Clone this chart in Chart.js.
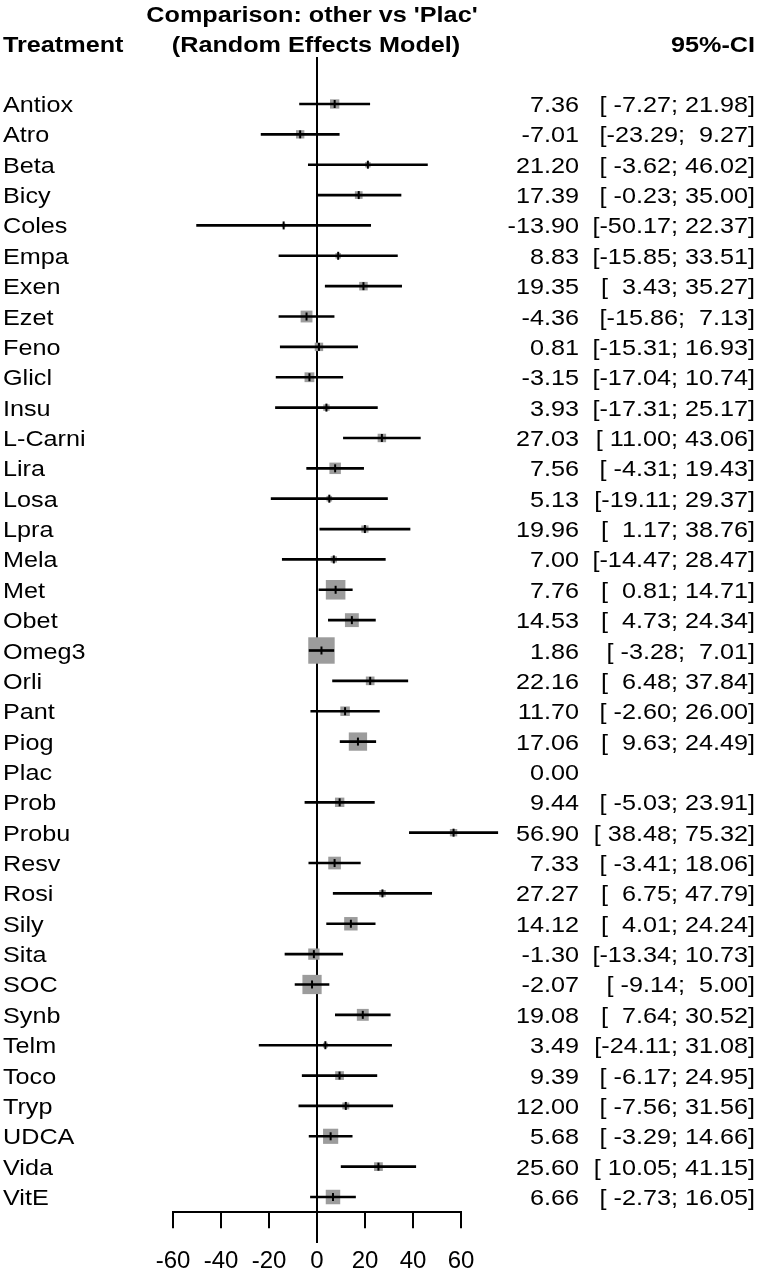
<!DOCTYPE html>
<html>
<head>
<meta charset="utf-8">
<script src="https://cdn.jsdelivr.net/npm/chart.js@4.4.1/dist/chart.umd.min.js"></script>
<style>
  html, body { margin: 0; padding: 0; background: #ffffff; }
  #wrap { width: 765px; height: 1282px; position: relative; }
</style>
</head>
<body>
<div id="wrap"><canvas id="c"></canvas></div>
<script>
// ---- Data ----
const treatments = ["Antiox","Atro","Beta","Bicy","Coles","Empa","Exen","Ezet","Feno","Glicl","Insu","L-Carni","Lira","Losa","Lpra","Mela","Met","Obet","Omeg3","Orli","Pant","Piog","Plac","Prob","Probu","Resv","Rosi","Sily","Sita","SOC","Synb","Telm","Toco","Tryp","UDCA","Vida","VitE"];
const estimates = [7.36,-7.01,21.20,17.39,-13.90,8.83,19.35,-4.36,0.81,-3.15,3.93,27.03,7.56,5.13,19.96,7.00,7.76,14.53,1.86,22.16,11.70,17.06,0.00,9.44,56.90,7.33,27.27,14.12,-1.30,-2.07,19.08,3.49,9.39,12.00,5.68,25.60,6.66];
const lowerCI = [-7.27,-23.29,-3.62,-0.23,-50.17,-15.85,3.43,-15.86,-15.31,-17.04,-17.31,11.00,-4.31,-19.11,1.17,-14.47,0.81,4.73,-3.28,6.48,-2.60,9.63,null,-5.03,38.48,-3.41,6.75,4.01,-13.34,-9.14,7.64,-24.11,-6.17,-7.56,-3.29,10.05,-2.73];
const upperCI = [21.98,9.27,46.02,35.00,22.37,33.51,35.27,7.13,16.93,10.74,25.17,43.06,19.43,29.37,38.76,28.47,14.71,24.34,7.01,37.84,26.00,24.49,null,23.91,75.32,18.06,47.79,24.24,10.73,5.00,30.52,31.08,24.95,31.56,14.66,41.15,16.05];
const xTicks = [-60,-40,-20,0,20,40,60];
const titleLines = ["Comparison: other vs 'Plac'", "(Random Effects Model)"];
const colHeaders = { left: "Treatment", right: "95%-CI" };

// ---- Derived datasets ----
const hasCI = treatments.map((_, i) => lowerCI[i] !== null && upperCI[i] !== null);
const ciBars = treatments.map((_, i) => hasCI[i] ? [lowerCI[i], upperCI[i]] : null);
const squarePts = [];
const squareRadius = [];
const tickPts = [];
treatments.forEach((t, i) => {
  if (!hasCI[i]) return;
  squarePts.push({ x: estimates[i], y: t });
  tickPts.push({ x: estimates[i], y: t });
  // square side inversely proportional to CI width (inverse-SE weighting)
  const side = 272 / (upperCI[i] - lowerCI[i]);
  squareRadius.push(side / Math.SQRT2);
});

function pad(s, n) { while (s.length < n) s = " " + s; return s; }
const estText = estimates.map(v => v.toFixed(2));
const ciText = treatments.map((_, i) => hasCI[i]
  ? "[" + pad(lowerCI[i].toFixed(2), 6) + "; " + pad(upperCI[i].toFixed(2), 5) + "]"
  : "");

// ---- Text helper (horizontally stretched like the reference) ----
const FONT = "'Liberation Sans', Arial, sans-serif";
const SX = 1.12;
function txt(ctx, s, x, y, align, bold) {
  ctx.save();
  ctx.font = (bold ? "bold " : "") + "22.5px " + FONT;
  ctx.fillStyle = "#000";
  ctx.textAlign = align;
  ctx.textBaseline = "alphabetic";
  ctx.translate(x, y);
  ctx.scale(SX, 1);
  ctx.fillText(s, 0, 0);
  ctx.restore();
}

const forestPlugin = {
  id: "forest",
  beforeDatasetsDraw(chart) {
    const ctx = chart.ctx;
    const xs = chart.scales.x;
    const x0 = Math.round(xs.getPixelForValue(0));
    ctx.save();
    ctx.strokeStyle = "#000";
    ctx.lineWidth = 2;
    ctx.beginPath();
    ctx.moveTo(x0, 57);
    ctx.lineTo(x0, 1243);
    ctx.stroke();
    ctx.restore();
  },
  afterDraw(chart) {
    const ctx = chart.ctx;
    const xs = chart.scales.x;
    const ys = chart.scales.y;
    const x0 = xs.getPixelForValue(0);
    // headers
    txt(ctx, titleLines[0], x0 - 5, 22, "center", true);
    txt(ctx, titleLines[1], x0 - 1, 52, "center", true);
    txt(ctx, colHeaders.left, 3, 52, "left", true);
    txt(ctx, colHeaders.right, 755, 52, "right", true);
    // rows
    treatments.forEach((t, i) => {
      const y = ys.getPixelForValue(i) + 8;
      txt(ctx, t, 3, y, "left", false);
      txt(ctx, estText[i], 579, y, "right", false);
      if (ciText[i]) txt(ctx, ciText[i], 755, y, "right", false);
    });
  }
};

new Chart(document.getElementById("c"), {
  type: "bar",
  data: {
    labels: treatments,
    datasets: [
      {
        type: "scatter",
        data: squarePts,
        pointStyle: "rect",
        pointRadius: squareRadius,
        pointHoverRadius: squareRadius,
        pointBackgroundColor: "#9c9c9c",
        pointBorderWidth: 0,
        clip: false,
        order: 3
      },
      {
        type: "bar",
        data: ciBars,
        backgroundColor: "#000",
        borderWidth: 0,
        barThickness: 2,
        clip: false,
        order: 2
      },
      {
        type: "scatter",
        data: tickPts,
        pointStyle: "line",
        pointRotation: 90,
        pointRadius: 4,
        pointBorderColor: "#000",
        pointBorderWidth: 2,
        clip: false,
        order: 1
      }
    ]
  },
  options: {
    indexAxis: "y",
    responsive: true,
    maintainAspectRatio: false,
    animation: false,
    events: [],
    layout: { padding: { left: 173, right: 304, top: 88.8, bottom: 0 } },
    plugins: { legend: { display: false }, tooltip: { enabled: false } },
    scales: {
      y: { type: "category", display: false, offset: true },
      x: {
        type: "linear",
        min: -60, max: 60,
        afterBuildTicks(scale) { scale.ticks = xTicks.map(v => ({ value: v })); },
        afterFit(scale) { scale.height = 69.8; },
        grid: { display: true, drawOnChartArea: false, drawTicks: true, tickLength: 16, color: "#000", lineWidth: 2 },
        border: { display: true, color: "#000", width: 2 },
        ticks: { color: "#000", padding: 19, font: { family: FONT, size: 24 }, maxRotation: 0, autoSkip: false }
      }
    }
  },
  plugins: [forestPlugin]
});
</script>
</body>
</html>
